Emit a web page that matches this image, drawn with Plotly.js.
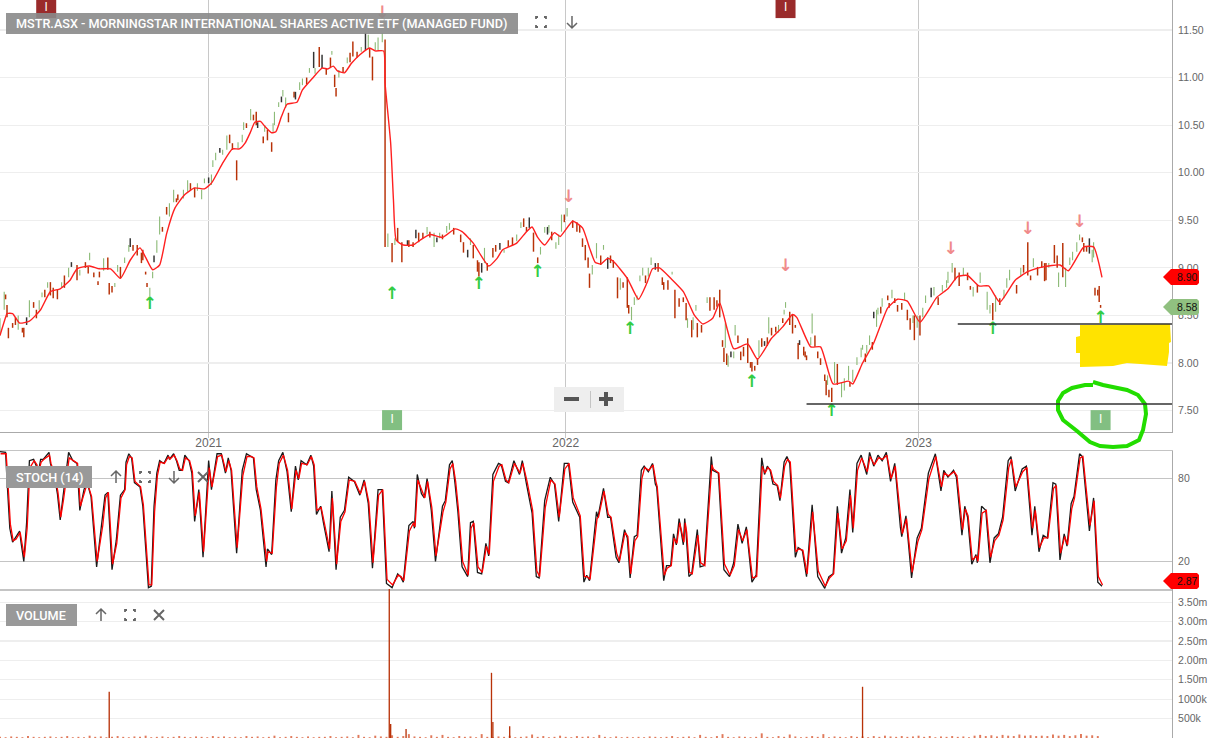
<!DOCTYPE html>
<html><head><meta charset="utf-8">
<script src="https://cdn.plot.ly/plotly-3.0.1.min.js"></script>
<style>html,body{margin:0;padding:0;background:#fff;overflow:hidden}#c{width:1215px;height:738px}</style>
</head><body><div id="c"></div>
<script>
// x values are trading-session numbers counted from the left edge of the chart
const yearTicks=[149,404,656];
const yearLabels=['2021','2022','2023'];

const barSession=[
0,3,4,5,6,9,11,13,16,17,19,21,24,26,28,30,32,34,36,38,
41,44,46,49,51,55,57,61,63,64,67,70,71,74,77,78,80,82,84,86,
89,92,93,95,98,101,102,104,105,107,109,110,112,114,116,119,121,124,126,127,
131,134,136,139,141,144,146,149,151,152,154,157,159,162,164,166,169,170,173,174,
176,179,181,183,184,188,189,191,194,195,196,199,201,202,204,206,210,211,214,216,
219,221,224,225,228,230,233,236,237,239,240,242,245,248,250,252,255,258,261,263,
264,266,268,270,273,275,277,280,282,284,287,291,292,295,297,299,302,305,307,310,
312,314,316,319,321,324,329,331,334,336,338,341,342,344,346,348,352,354,357,360,
363,366,369,372,374,376,378,381,384,386,389,391,392,394,397,399,401,403,405,409,
412,414,416,418,420,421,423,426,429,431,434,436,438,441,443,445,448,449,451,453,
455,457,459,461,463,465,468,470,473,474,477,480,482,485,488,490,491,494,495,497,
498,501,505,507,510,512,514,516,517,518,519,520,522,524,525,527,529,531,534,536,
537,539,541,542,544,546,548,549,551,554,556,559,560,561,564,566,568,570,571,574,
575,576,579,580,582,584,586,589,590,591,592,594,596,598,601,603,606,607,609,612,
615,616,618,619,621,623,624,626,627,629,630,634,635,637,639,641,644,646,648,650,
652,653,655,657,659,661,665,667,670,673,676,677,680,682,685,688,691,693,695,698,
700,705,707,709,711,714,717,719,721,726,729,731,734,736,738,741,744,746,747,749,
753,755,756,759,761,764,766,769,771,773,774,776,778,780,781,782,784,785,786];
const barHigh=[
8.47,8.75,8.72,8.61,8.37,8.42,8.48,8.50,8.37,8.37,8.48,8.66,8.64,8.56,8.66,8.74,8.77,8.85,8.85,8.79,
8.77,8.85,8.92,9.00,9.06,9.03,8.98,9.06,9.01,9.16,8.95,8.86,8.96,9.10,9.11,8.84,8.81,8.84,9.03,9.01,
9.11,9.24,9.31,9.24,9.24,9.16,9.19,8.96,8.84,8.79,8.96,9.13,9.29,9.54,9.43,9.64,9.68,9.82,9.73,9.77,
9.82,9.92,9.89,9.84,9.89,9.82,9.94,9.95,9.98,10.13,10.21,10.26,10.24,10.39,10.40,10.31,10.13,10.32,10.40,10.53,
10.52,10.67,10.61,10.64,10.53,10.38,10.50,10.45,10.32,10.52,10.64,10.74,10.80,10.87,10.79,10.63,10.85,10.85,10.95,10.99,
11.00,11.10,11.27,11.10,11.32,11.24,11.10,11.21,11.28,11.03,10.89,11.08,11.11,11.21,11.26,11.38,11.27,11.32,11.47,11.45,
11.31,11.22,11.37,11.42,11.47,11.40,9.36,9.26,9.31,9.42,9.27,9.29,9.29,9.27,9.40,9.37,9.37,9.43,9.38,9.37,
9.32,9.37,9.35,9.44,9.47,9.42,9.35,9.27,9.19,9.31,9.24,9.08,9.06,9.05,9.21,9.05,9.21,9.24,9.26,9.19,
9.29,9.32,9.35,9.48,9.52,9.43,9.53,9.37,9.11,9.22,9.43,9.43,9.45,9.38,9.27,9.35,9.56,9.56,9.63,9.50,
9.48,9.45,9.31,9.24,9.11,8.94,9.03,9.26,9.13,9.24,9.11,9.13,9.08,8.90,8.89,8.85,8.90,8.61,8.59,8.69,
8.71,8.92,9.00,8.92,9.00,9.11,9.05,9.05,8.90,8.85,8.87,8.96,8.77,8.68,8.69,8.63,8.47,8.45,8.48,8.61,
8.42,8.40,8.69,8.69,8.69,8.66,8.77,8.24,8.16,8.42,8.10,8.08,8.12,8.12,8.40,8.29,8.12,8.17,8.26,8.01,
8.01,7.97,8.05,8.24,8.26,8.23,8.27,8.48,8.37,8.38,8.40,8.47,8.56,8.64,8.54,8.51,8.40,8.21,8.24,8.17,
8.12,8.08,8.27,8.52,8.29,8.12,8.05,7.88,7.82,7.87,7.72,7.74,8.01,7.99,7.79,7.84,7.97,7.80,7.93,8.06,
8.16,8.19,8.10,8.19,8.29,8.22,8.54,8.56,8.58,8.59,8.68,8.71,8.63,8.77,8.68,8.61,8.63,8.74,8.56,8.47,
8.50,8.50,8.50,8.50,8.58,8.71,8.79,8.80,8.69,8.82,8.87,8.96,9.05,9.00,8.95,9.00,8.95,8.81,8.80,8.82,
8.95,8.75,8.61,8.63,8.71,8.68,8.77,8.89,8.98,8.82,9.00,9.03,9.27,8.92,9.10,9.01,9.07,9.05,9.05,9.05,
9.24,9.13,8.95,9.26,9.00,9.11,9.17,9.27,9.35,9.32,9.26,9.22,9.31,9.19,9.27,8.79,8.77,8.81,8.61];
const barLow=[
8.29,8.56,8.67,8.48,8.26,8.37,8.40,8.35,8.32,8.27,8.40,8.48,8.58,8.47,8.56,8.69,8.69,8.79,8.71,8.68,
8.67,8.80,8.79,8.90,9.01,8.87,8.92,9.00,8.94,9.08,8.90,8.82,8.90,8.97,8.98,8.72,8.74,8.80,8.96,8.89,
9.05,9.17,9.22,9.18,9.13,9.05,9.08,8.93,8.80,8.70,8.89,9.06,9.16,9.35,9.38,9.56,9.54,9.69,9.69,9.71,
9.73,9.80,9.82,9.74,9.81,9.72,9.89,9.89,9.87,10.06,10.13,10.21,10.19,10.24,10.31,10.24,9.92,10.26,10.32,10.45,
10.47,10.55,10.55,10.50,10.47,10.31,10.43,10.34,10.22,10.43,10.50,10.69,10.74,10.80,10.68,10.53,10.79,10.77,10.87,10.92,
10.93,11.05,11.10,11.04,11.11,11.10,11.03,11.11,11.24,10.90,10.80,11.00,11.05,11.15,11.16,11.22,11.21,11.27,11.29,11.31,
11.21,10.97,11.29,11.29,11.37,9.22,9.22,9.06,9.24,9.27,9.06,9.24,9.22,9.22,9.31,9.27,9.31,9.35,9.32,9.22,
9.27,9.31,9.30,9.37,9.40,9.35,9.27,9.16,9.11,9.24,9.10,8.96,8.91,8.95,9.05,8.97,9.11,9.17,9.19,9.16,
9.22,9.24,9.28,9.42,9.43,9.38,9.42,9.17,9.05,9.14,9.37,9.35,9.37,9.29,9.20,9.24,9.38,9.48,9.54,9.42,
9.38,9.37,9.22,9.08,9.00,8.79,8.93,9.10,9.03,9.19,8.99,9.05,9.00,8.68,8.77,8.79,8.58,8.52,8.45,8.61,
8.66,8.86,8.92,8.84,8.91,9.03,8.98,8.96,8.82,8.77,8.77,8.93,8.47,8.59,8.64,8.45,8.37,8.27,8.35,8.55,
8.27,8.32,8.63,8.55,8.56,8.59,8.48,8.17,8.01,8.16,7.98,7.96,8.06,8.05,8.29,8.21,8.03,8.07,8.00,7.95,
7.91,7.92,7.98,8.06,8.17,8.18,8.18,8.31,8.29,8.32,8.32,8.42,8.51,8.58,8.40,8.31,8.37,8.04,8.19,8.08,
8.06,8.03,8.19,8.31,8.17,8.05,7.98,7.81,7.66,7.77,7.64,7.59,7.79,7.77,7.64,7.71,7.82,7.75,7.80,7.98,
8.06,8.14,8.01,8.10,8.19,8.14,8.47,8.38,8.51,8.52,8.59,8.66,8.58,8.68,8.63,8.54,8.56,8.66,8.45,8.35,
8.42,8.24,8.37,8.29,8.48,8.63,8.69,8.71,8.61,8.75,8.79,8.84,8.95,8.87,8.81,8.92,8.87,8.77,8.70,8.74,
8.84,8.56,8.52,8.45,8.54,8.61,8.68,8.79,8.87,8.73,8.92,8.95,8.92,8.87,9.01,8.92,9.00,8.86,8.87,9.00,
9.05,9.00,8.80,8.90,8.80,9.03,9.08,9.17,9.29,9.27,9.17,9.17,9.15,9.06,9.11,8.71,8.71,8.64,8.58];
// g = up session, r = down session, k = unchanged session
const barDir=[
'ggrrrrrgrrkgrrggrgrr','rgrgkrgrrgrrrgrrrggr','ggkrrrrrrggkggrrggrr','ggrrgggkgggkggrrrggg',
'rgrrkrgrrgggkggrrkgg','rgkgrkrrgrrgrgrrrgkg','rrgggrgrgrrkrrkrrgrg','kgrggrrrkgrrrkgrrrkg',
'rrggrrkrrggkgrgggrgr','rrrrrrggrgkrrrgrrrgg','gggrggkrrrrgrrrrgrgg','rrgrrrrrrgrgkggrrrrr',
'rrrgrkrgrrgrggrrrrkr','rrggrrrrrgrrgrgggrgg','ggrggrkggrgrrgrrrgrr','grgrggkgrggggrrgrrgr',
'gggrgrgggrgrrrgrrrrg','rrgrgggggrrrkggrrrr'].join('').split('');

// moving average line
const maSession=[0,4,5,9,14,21,29,36,43,50,55,64,71,79,86,93,100,104,109,114,119,125,132,139,146,151,159,166,171,175,179,182,186,189,194,197,201,205,212,216,223,230,234,238,241,246,251,257,264,268,274,275,279,281,283,288,295,300,307,316,325,330,338,349,355,359,369,376,380,384,389,396,400,409,416,421,425,429,434,438,448,456,462,466,471,479,488,496,502,509,514,524,534,541,551,559,566,569,579,586,595,606,609,616,624,634,641,648,657,669,677,684,691,699,706,714,725,734,745,757,763,774,781,787];
const maPrice=[8.29,8.48,8.52,8.52,8.42,8.44,8.56,8.75,8.78,8.87,8.99,9.02,8.99,8.99,8.89,9.08,9.21,9.11,8.98,9.03,9.36,9.63,9.77,9.84,9.83,9.89,10.10,10.25,10.25,10.31,10.43,10.53,10.54,10.49,10.42,10.43,10.59,10.72,10.74,10.87,10.99,11.10,11.09,11.12,11.07,11.05,11.15,11.24,11.31,11.28,11.28,10.94,10.31,9.71,9.29,9.24,9.24,9.29,9.35,9.32,9.41,9.38,9.26,9.02,9.10,9.19,9.26,9.38,9.43,9.32,9.24,9.37,9.33,9.49,9.42,9.21,9.06,9.04,9.10,9.07,8.89,8.67,8.84,8.99,9.00,8.89,8.75,8.50,8.41,8.47,8.63,8.15,8.20,8.04,8.26,8.38,8.51,8.48,8.17,8.17,7.78,7.81,7.78,8.00,8.21,8.58,8.67,8.65,8.43,8.69,8.78,8.91,8.92,8.81,8.81,8.64,8.87,8.96,9.01,9.03,8.97,9.22,9.22,8.90];

// signals
const buySession=[107,280,342,384,450,537,594,709,786];
const buyPrice=[8.61,8.72,8.82,8.95,8.35,7.79,7.49,8.35,8.46];
const sellSession=[273,406,561,679,734,771];
const sellPrice=[11.67,9.74,9.01,9.19,9.40,9.47];
const greenFlagSession=[280,786];
const greenFlagPrice=[7.40,7.40];
const redFlagSession=[33,561];
const redFlagPrice=[11.73,11.73];
const supportFrom=[684,576];
const supportTo=[837,837];
const supportPrice=[8.41,7.57];
const priceTicks=[7.5,8,8.5,9,9.5,10,10.5,11,11.5];
const priceTickText=['7.50','8.00','8.50','9.00','9.50','10.00','10.50','11.00','11.50'];

// stochastic
const stochSession=[
0,4,5,7,9,11,14,15,17,19,
21,24,26,27,29,31,35,36,39,41,
43,45,49,52,55,57,60,62,65,69,
73,75,77,80,83,86,89,90,92,94,
96,100,102,105,106,108,110,112,114,117,
120,121,124,126,128,130,132,135,137,139,
142,145,149,151,155,158,161,163,165,169,
173,176,179,181,183,186,190,191,194,197,
199,202,205,208,211,213,215,219,222,224,
226,229,231,235,237,240,243,246,249,253,
257,260,263,266,270,273,276,280,284,286,
288,292,295,296,298,301,303,305,308,311,
316,318,321,323,325,327,330,334,336,338,
341,344,347,349,352,356,358,361,363,367,
371,373,376,380,383,385,389,393,396,399,
403,406,409,414,417,419,421,426,427,431,
434,436,440,442,446,448,450,453,455,
458,460,463,466,468,469,474,476,479,481,
483,485,488,489,490,492,494,498,500,503,
508,509,513,517,521,524,527,530,533,537,
540,544,546,548,550,552,555,557,560,562,
564,568,570,573,576,580,584,589,592,595,
598,601,604,607,609,612,615,619,621,624,
627,630,633,636,639,
643,644,647,651,655,658,663,668,672,674,
677,681,683,687,689,691,694,697,698,701,
704,707,710,713,716,720,722,725,730,733,
737,739,742,745,748,752,754,757,760,762,
765,767,771,773,778,781,784,787];
const stochK=[
99.5,99,79,44,34,37,42,34,20,48,
93,94,89,82,94,94,99,91,81,69,
50,67,99,93,91,57,72,78,67,16,
50,68,70,14,35,68,72,92,98,95,
77,74,60,11,1,2,60,84,93,91,
97,94,98,93,86,86,97,93,84,49,
72,23,93,72,98,98,84,95,86,26,
86,98,96,95,72,57,16,29,25,79,
93,99,85,56,89,79,93,90,97,89,
54,60,48,27,71,14,52,57,81,78,
68,79,62,15,72,72,4,1,11,9,
5,46,49,44,83,69,66,80,57,20,
60,64,90,93,76,56,16,9,48,49,
12,11,33,24,83,91,90,78,77,93,
83,93,76,55,9,8,64,81,76,49,
91,91,63,52,5,10,6,56,52,73,
52,52,23,19,43,37,8,38,39,
86,89,85,91,76,74,6,17,17,40,
32,51,32,51,40,9,11,43,16,17,
96,86,84,14,9,19,47,33,45,5,
10,95,83,89,86,76,75,64,92,96,
91,23,30,28,9,61,9,0.5,9,11,
60,26,37,72,41,91,97,83,99,89,
97,93,99,78,91,
45,38,53,8,37,44,84,98,71,86,
81,86,81,39,60,52,18,25,19,60,
57,19,37,40,52,93,96,71,87,89,
39,60,27,39,37,77,76,21,40,31,
62,67,98,96,42,66,5,2];
const stochD=[
98,98,82,47,35,36,41,35,23,44,
88,93,90,84,92,94,97,91,82,70,
52,65,95,93,91,60,71,77,67,20,
46,66,70,18,33,66,72,90,96,95,
78,74,61,14,3,3,56,82,92,91,
96,94,97,93,87,86,95,93,85,53,
70,27,88,74,96,97,85,93,86,30,
82,96,96,95,74,58,20,27,26,74,
91,97,86,58,86,80,91,90,96,90,
57,59,49,29,66,18,49,56,79,78,
69,78,63,19,68,72,7,3,10,9,
6,42,48,45,79,71,66,78,59,24,
56,63,87,91,78,58,20,10,44,48,
16,12,31,25,78,89,90,79,77,91,
84,91,78,57,13,9,59,79,76,52,
87,91,66,53,9,9,7,51,52,71,
54,52,26,20,41,38,11,35,38,
80,88,86,90,78,74,10,15,17,37,
33,48,34,48,41,12,11,39,19,17,
90,87,84,18,10,17,43,35,43,8,
9,89,84,88,86,78,75,66,89,94,
92,27,29,28,11,56,13,2,8,11,
55,29,35,68,44,86,95,85,96,90,
95,94,97,80,89,
47,40,51,12,34,43,80,96,74,84,
82,85,82,43,58,53,21,24,20,55,
57,23,35,39,50,88,94,74,85,88,
44,57,30,37,37,73,75,26,38,32,
58,66,95,96,46,64,9,2.87];
const stochTicks=[20,80];

// volume, in millions of units
const spikeSession=[78,278,279,290,351,352,364,616];
const spikeVolume=[1.19,3.9,0.36,0.23,1.68,0.41,0.30,1.32];
const dailyVolume=[
.03,.02,.04,.03,.02,.05,.03,.02,.03,.04,.02,.03,.05,.02,.03,.02,.06,.03,.04,.02,
.03,.05,.03,.02,.04,.03,.06,.02,.03,.04,.02,.03,.05,.03,.02,.04,.03,.02,.05,.03,
.04,.02,.03,.02,.05,.03,.04,.02,.03,.06,.02,.03,.05,.03,.02,.04,.02,.03,.03,.05,
.02,.03,.04,.02,.08,.03,.02,.06,.04,.03,.07,.03,.05,.10,.04,.03,.02,.07,.03,.08,
.03,.02,.05,.03,.04,.02,.10,.03,.02,.04,.03,.06,.02,.03,.04,.09,.03,.05,.02,.03,
.06,.03,.02,.05,.03,.04,.02,.08,.03,.02,.04,.02,.03,.02,.03,.02,.04,.03,.02,.03,
.05,.02,.03,.04,.02,.08,.03,.02,.05,.10,.03,.02,.04,.03,.02,.03,.12,.03,.02,.05,
.03,.09,.04,.02,.03,.05,.03,.10,.02,.04,.03,.02,.05,.03,.04,.02,.05,.03,.06,.04,
.03,.05,.03,.04,.06,.03,.05,.02,.04,.03,.05,.03,.04,.02,.06,.08,.05,.07,.04,.08,
.06,.05,.09,.06,.07,.05,.06,.05,.09,.06,.08,.05,.07,.10,.06,.07,.05];
const volumeTicks=[0.5,1,1.5,2,2.5,3,3.5];
const volumeTickText=['500k','1000k','1.50m','2.00m','2.50m','3.00m','3.50m'];

// page furniture, measured in page pixels
const W=1172,H=738;
const sx=x=>x/W, sy=y=>1-y/H;
const pathOf=pts=>pts.map((p,i)=>(i?'L':'M')+sx(p[0]).toFixed(5)+' '+sy(p[1]).toFixed(5)).join(' ');
const paperShape=(path,o)=>Object.assign({type:'path',xref:'paper',yref:'paper',path:path,layer:'above',line:{width:0}},o);
const rect=(x0,y0,x1,y1,fill)=>paperShape(pathOf([[x0,y0],[x1,y0],[x1,y1],[x0,y1]])+' Z',{fillcolor:fill});
const iconLine={color:'#666',width:1.5};
function arrowUp(cx,cy){return [paperShape(pathOf([[cx,cy+6],[cx,cy-6]])+' '+pathOf([[cx-5,cy-1],[cx,cy-6],[cx+5,cy-1]]),{line:iconLine})];}
function arrowDown(cx,cy){return [paperShape(pathOf([[cx,cy-6],[cx,cy+6]])+' '+pathOf([[cx-5,cy+1],[cx,cy+6],[cx+5,cy+1]]),{line:iconLine})];}
function cross(cx,cy){return [paperShape(pathOf([[cx-5,cy-5],[cx+5,cy+5]])+' '+pathOf([[cx+5,cy-5],[cx-5,cy+5]]),{line:{color:'#666',width:2}})];}
function full(cx,cy){const a=5,b=2;const c=(dx,dy)=>pathOf([[cx+dx*a,cy+dy*(a-b)],[cx+dx*a,cy+dy*a],[cx+dx*(a-b),cy+dy*a]]);
 return [paperShape([c(-1,-1),c(1,-1),c(1,1),c(-1,1)].join(' '),{line:{color:'#666',width:1.8}})];}
function tag(cy,fill){return paperShape(pathOf([[1163,cy],[1171,cy-8],[1197,cy-8],[1199,cy-6],[1199,cy+6],[1197,cy+8],[1171,cy+8]])+' Z',{fillcolor:fill});}

const yellow=[[1080,325],[1170,324],[1171,342],[1169,343],[1169,352],[1167,366],[1127,363],[1113,366],[1080,367],[1080,353],[1076,353],[1076,337],[1080,336]];
const ring=[[1093,382],[1103,385],[1127,390],[1138,395],[1145,404],[1146,414],[1143,430],[1139,440],[1127,446],[1113,447],[1100,446],[1090,442],[1077,431],[1063,420],[1058,410],[1058,401],[1063,393],[1072,388],[1085,385],[1093,385]];

const shapes=[
 paperShape(pathOf(yellow)+' Z',{fillcolor:'#ffe300'}),
 rect(6,13,518,34,'rgba(137,137,137,0.9)'),
 rect(6,466,92,488,'#999'),
 rect(6,604,77,626,'#999'),
 rect(554,387,624,412,'#eeeeee'),
 rect(590,391,591,408,'#c4c4c4'),
 rect(564,397,579,401,'#555'),
 rect(599,397,613,401,'#555'),
 rect(604,392,608,406,'#555'),
 ...full(541,22),...arrowDown(572,22),
 ...arrowUp(116,477),...full(145,477),...arrowDown(174,477),...cross(203,477),
 ...arrowUp(101,615),...full(130,615),...cross(159,615),
 tag(277,'#ff0000'),tag(307,'#90c080'),tag(581,'#ff0000'),
 paperShape('M '+ring.map(p=>sx(p[0]).toFixed(5)+' '+sy(p[1]).toFixed(5)).join(' L '),{line:{color:'#22dd00',width:4}}),
];
supportPrice.forEach((p,i)=>shapes.push({type:'line',xref:'x',yref:'y',x0:supportFrom[i],x1:supportTo[i],y0:p,y1:p,layer:'above',line:{color:'#333',width:1.5}}));

const pillFont={family:'Roboto, Arial, sans-serif',size:12.65,color:'#fff',weight:500};
const tagFont={family:'Liberation Sans, Arial',size:10.5,color:'#111'};
const note=(x,y,text,font,xanchor)=>({xref:'paper',yref:'paper',x:sx(x),y:sy(y),text:text,showarrow:false,font:font,xanchor:xanchor||'left',yanchor:'middle',borderpad:0,borderwidth:0});
const annotations=[
 note(16,23.5,'MSTR.ASX - MORNINGSTAR INTERNATIONAL SHARES ACTIVE ETF (MANAGED FUND)',pillFont),
 note(16,477,'STOCH (14)',pillFont),
 note(16,615,'VOLUME',pillFont),
 note(1187,277,'8.90',tagFont,'center'),
 note(1187,307,'8.58',tagFont,'center'),
 note(1187,581,'2.87',tagFont,'center'),
];

const dirColor={g:'#8dbb78',r:'#b83208',k:'#333333'};
const dirWidth={g:0.8,r:1.05,k:1.05};
const traces=[
 {type:'bar',x:barSession,base:barLow,y:barHigh.map((h,i)=>h-barLow[i]),width:barDir.map(d=>dirWidth[d]),
  marker:{color:barDir.map(d=>dirColor[d]),line:{width:0}},xaxis:'x',yaxis:'y',hoverinfo:'skip'},
 {type:'scatter',mode:'lines',x:maSession,y:maPrice,line:{color:'#ff2020',width:1.4,shape:'spline',smoothing:0.5},xaxis:'x',yaxis:'y',hoverinfo:'skip'},
 {type:'scatter',mode:'text',x:buySession,y:buyPrice,text:buySession.map(()=>'↑'),textfont:{family:'DejaVu Sans',size:17,color:'#33cc44',weight:700},textposition:'middle center',xaxis:'x',yaxis:'y',hoverinfo:'skip'},
 {type:'scatter',mode:'text',x:sellSession,y:sellPrice,text:sellSession.map(()=>'↓'),textfont:{family:'DejaVu Sans',size:17,color:'#f08a8a',weight:700},textposition:'middle center',xaxis:'x',yaxis:'y',hoverinfo:'skip'},
 {type:'scatter',mode:'markers+text',x:greenFlagSession,y:greenFlagPrice,text:greenFlagSession.map(()=>'I'),textposition:'middle center',textfont:{family:'Roboto',size:12,color:'#fff'},marker:{symbol:'square',size:20,color:'#82bf82',line:{width:0}},xaxis:'x',yaxis:'y',hoverinfo:'skip'},
 {type:'scatter',mode:'markers+text',x:redFlagSession,y:redFlagPrice,text:redFlagSession.map(()=>'I'),textposition:'middle center',textfont:{family:'Roboto',size:12,color:'#fff'},marker:{symbol:'square',size:20,color:'#9a2b2b',line:{width:0}},xaxis:'x',yaxis:'y',hoverinfo:'skip'},
 {type:'scatter',mode:'lines',x:stochSession,y:stochK,line:{color:'#1a1a1a',width:1.3},xaxis:'x2',yaxis:'y2',hoverinfo:'skip'},
 {type:'scatter',mode:'lines',x:stochSession.map(s=>s+0.4),y:stochD,line:{color:'#ff0000',width:1.3},xaxis:'x2',yaxis:'y2',hoverinfo:'skip'},
 {type:'bar',x:dailyVolume.map((_,i)=>i*4),y:dailyVolume,width:1.4,marker:{color:'#e07a5c',line:{width:0}},xaxis:'x3',yaxis:'y3',hoverinfo:'skip'},
 {type:'bar',x:spikeSession,y:spikeVolume,width:0.95,marker:{color:'#b83208',line:{width:0}},xaxis:'x3',yaxis:'y3',hoverinfo:'skip'},
];

const yTickFont={family:'Liberation Sans, Arial, sans-serif',size:10.5,color:'#666'};
const xTickFont={family:'Liberation Sans, Arial, sans-serif',size:12,color:'#666'};
const xRange=[0,837];
const layout={
 width:1215,height:738,margin:{l:0,r:43,t:0,b:0},paper_bgcolor:'#fff',plot_bgcolor:'#fff',showlegend:false,barmode:'overlay',dragmode:false,
 font:xTickFont,
 xaxis:{domain:[0,1],range:xRange,anchor:'y',tickmode:'array',tickvals:yearTicks,ticktext:yearLabels,showgrid:true,gridcolor:'#c8c8c8',gridwidth:1,zeroline:false,showline:true,linecolor:'#aaa',linewidth:1,ticks:'outside',ticklen:5,tickcolor:'#c8c8c8',tickfont:xTickFont,ticklabelstandoff:-5},
 xaxis2:{domain:[0,1],range:xRange,anchor:'y2',showticklabels:false,ticks:'',showgrid:false,zeroline:false,showline:true,mirror:true,linecolor:'#c4c4c4',linewidth:1.5},
 xaxis3:{domain:[0,1],range:xRange,anchor:'y3',showticklabels:false,ticks:'',showgrid:false,zeroline:false,showline:false},
 yaxis:{domain:[1-432/H,1],range:[7.275,11.815],anchor:'x',side:'right',tickmode:'array',tickvals:priceTicks,ticktext:priceTickText,gridcolor:'#eeeeee',gridwidth:1.2,zeroline:false,showline:true,linecolor:'#aaa',linewidth:1,ticks:'outside',ticklen:3,tickcolor:'rgba(0,0,0,0)',tickfont:yTickFont},
 yaxis2:{domain:[1-589/H,1-451/H],range:[0,100],anchor:'x2',side:'right',tickmode:'array',tickvals:stochTicks,ticktext:['20','80'],gridcolor:'#c4c4c4',gridwidth:1.5,zeroline:false,showline:true,linecolor:'#aaa',linewidth:1,ticks:'outside',ticklen:3,tickcolor:'rgba(0,0,0,0)',tickfont:yTickFont},
 yaxis3:{domain:[0,1-589/H],range:[0,3.84],anchor:'x3',side:'right',tickmode:'array',tickvals:volumeTicks,ticktext:volumeTickText,gridcolor:'#eeeeee',gridwidth:1.2,zeroline:false,showline:true,linecolor:'#aaa',linewidth:1,ticks:'outside',ticklen:3,tickcolor:'rgba(0,0,0,0)',tickfont:yTickFont},
 shapes:shapes,annotations:annotations
};
Plotly.newPlot('c',traces,layout,{displayModeBar:false,staticPlot:true});
</script></body></html>
